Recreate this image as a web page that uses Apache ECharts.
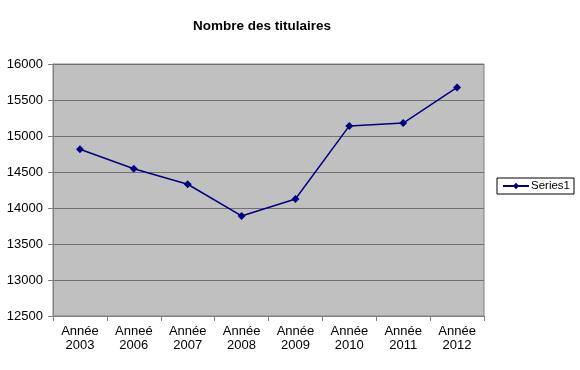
<!DOCTYPE html>
<html><head><meta charset="utf-8">
<script src="https://cdn.jsdelivr.net/npm/echarts@6/dist/echarts.min.js"></script>
<style>html,body{margin:0;padding:0;background:#fff}#c{width:580px;height:370px}</style>
</head><body><div id="c"></div>
<script>
var categories = ['Année\n2003','Anneé\n2006','Année\n2007','Année\n2008','Année\n2009','Année\n2010','Année\n2011','Année\n2012'];
var series1 = [14815, 14545, 14330, 13890, 14125, 15140, 15180, 15675];
var yMin = 12500, yMax = 16000, yStep = 500;

var chart = echarts.init(document.getElementById('c'));
var font = 'Liberation Sans, Arial, sans-serif';
chart.setOption({
  animation: false,
  backgroundColor: '#ffffff',
  title: {
    text: 'Nombre des titulaires',
    left: 188, top: 14,
    textStyle: {fontFamily: font, fontSize: 13.5, fontWeight: 'bold', color: '#000'}
  },
  legend: {
    data: ['Series1'],
    left: 497, top: 178,
    orient: 'vertical',
    borderColor: '#000', borderWidth: 1,
    padding: [2, 4, 2, 5],
    itemWidth: 26, itemHeight: 8, itemGap: 0,
    textStyle: {fontFamily: font, fontSize: 11.5, color: '#000', padding: [0,0,0,-3]}
  },
  grid: {left: 53, top: 64, right: 96, bottom: 54, show: true, backgroundColor: '#c0c0c0', borderColor: '#808080', borderWidth: 1},
  xAxis: {
    type: 'category', data: categories, boundaryGap: true,
    axisLine: {lineStyle: {color: '#808080'}},
    axisTick: {show: true, length: 5, lineStyle: {color: '#808080'}},
    axisLabel: {fontFamily: font, fontSize: 13, color: '#000', lineHeight: 14, margin: 8, interval: 0}
  },
  yAxis: {
    type: 'value', min: yMin, max: yMax, interval: yStep,
    axisLine: {show: true, lineStyle: {color: '#808080'}},
    axisTick: {show: true, length: 5, lineStyle: {color: '#808080'}},
    axisLabel: {fontFamily: font, fontSize: 13, color: '#000', margin: 10, formatter: function (v) { return String(v); }},
    splitLine: {lineStyle: {color: '#707070', width: 1}}
  },
  series: [{
    name: 'Series1', type: 'line', data: series1,
    symbol: 'diamond', symbolSize: 8,
    lineStyle: {color: '#000080', width: 1.5},
    itemStyle: {color: '#000080'}
  }]
});
</script></body></html>
